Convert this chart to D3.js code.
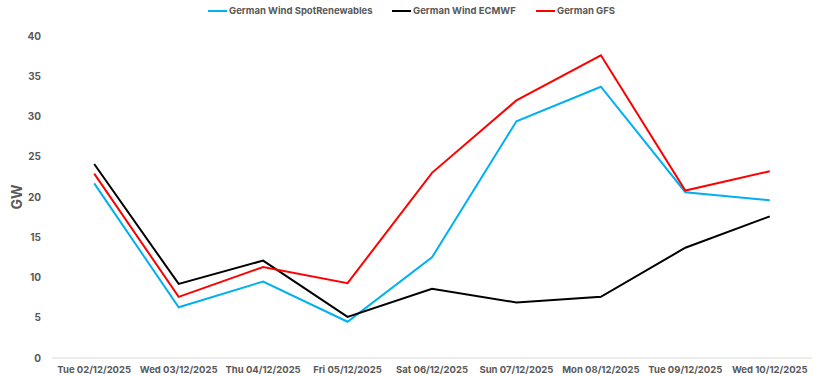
<!DOCTYPE html>
<html>
<head>
<meta charset="utf-8">
<script src="https://cdn.jsdelivr.net/npm/d3@7"></script>
<style>
  body { margin: 0; background: #fff; }
  text { font-family: Inter, "Liberation Sans", sans-serif; }
</style>
</head>
<body>
<div id="chart"></div>
<script>
var days = ["Tue 02/12/2025", "Wed 03/12/2025", "Thu 04/12/2025", "Fri 05/12/2025", "Sat 06/12/2025",
            "Sun 07/12/2025", "Mon 08/12/2025", "Tue 09/12/2025", "Wed 10/12/2025"];
var spotRenewables = [21.7, 6.3, 9.5, 4.5, 12.5, 29.4, 33.7, 20.6, 19.6];
var ecmwf = [24.1, 9.2, 12.1, 5.1, 8.6, 6.9, 7.6, 13.7, 17.6];
var gfs = [22.9, 7.6, 11.3, 9.3, 23.0, 32.0, 37.6, 20.8, 23.2];
var yTicks = [0, 5, 10, 15, 20, 25, 30, 35, 40];

var seriesNames = ["German Wind SpotRenewables", "German Wind ECMWF", "German GFS"];
var seriesColors = ["#00b0f0", "#000000", "#ff0000"];
var seriesValues = [spotRenewables, ecmwf, gfs];

(function () {
    var width = 821,
        height = 376;
    var margin = {top: 36, right: 9, bottom: 18, left: 52};

    var svg = d3.select("#chart")
        .append("svg")
        .attr("width", width)
        .attr("height", height)

    var x = d3.scaleBand()
        .domain(days)
        .range([margin.left, width - margin.right])

    var y = d3.scaleLinear()
        .domain([0, 40])
        .range([height - margin.bottom, margin.top])

    // baseline
    svg.append("line")
        .attr("x1", margin.left)
        .attr("x2", width - margin.right)
        .attr("y1", y(0))
        .attr("y2", y(0))
        .attr("stroke", "#d9d9d9")
        .attr("stroke-width", 1)

    // y tick labels
    svg.selectAll(".ytick")
        .data(yTicks)
        .enter().append("text")
        .attr("class", "ytick")
        .attr("x", 41)
        .attr("y", function (d) { return y(d) })
        .attr("dy", "0.35em")
        .attr("text-anchor", "end")
        .attr("fill", "#595959")
        .attr("font-size", "10px")
        .attr("font-weight", "bold")
        .text(function (d) { return d })

    // x tick labels
    svg.selectAll(".xtick")
        .data(days)
        .enter().append("text")
        .attr("class", "xtick")
        .attr("x", function (d) { return x(d) + x.bandwidth() / 2 })
        .attr("y", 373)
        .attr("text-anchor", "middle")
        .attr("fill", "#595959")
        .attr("font-size", "9.5px")
        .attr("font-weight", "bold")
        .text(function (d) { return d })

    // axis title
    svg.append("text")
        .attr("transform", "translate(22," + y(20) + ") rotate(-90)")
        .attr("text-anchor", "middle")
        .attr("fill", "#595959")
        .attr("font-size", "14px")
        .attr("font-weight", "bold")
        .text("GW")

    var line = d3.line()
        .x(function (d, i) { return x(days[i]) + x.bandwidth() / 2 })
        .y(function (d) { return y(d) })

    svg.selectAll(".series")
        .data(seriesValues)
        .enter().append("path")
        .attr("class", "series")
        .attr("d", line)
        .attr("fill", "none")
        .attr("stroke", function (d, i) { return seriesColors[i] })
        .attr("stroke-width", 2)
        .attr("stroke-linejoin", "miter")

    // legend
    var legendX = [208, 392, 536];
    var legend = svg.selectAll(".legend")
        .data(seriesNames)
        .enter().append("g")
        .attr("class", "legend")
        .attr("transform", function (d, i) { return "translate(" + legendX[i] + ",11)" })

    legend.append("line")
        .attr("x1", 0)
        .attr("x2", 19)
        .attr("stroke", function (d, i) { return seriesColors[i] })
        .attr("stroke-width", 2)

    legend.append("text")
        .attr("x", 21)
        .attr("dy", "0.35em")
        .attr("fill", "#595959")
        .attr("font-size", "9.5px")
        .attr("font-weight", "bold")
        .text(function (d) { return d })
})();
</script>
</body>
</html>
